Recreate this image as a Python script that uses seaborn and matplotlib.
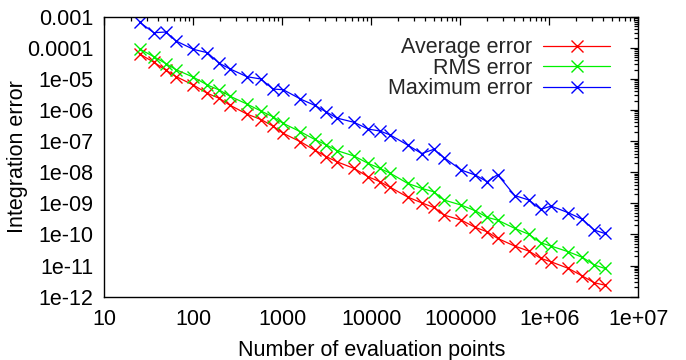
import numpy as np
import pandas as pd
import matplotlib
matplotlib.use("Agg")
import matplotlib.pyplot as plt
import matplotlib.ticker as mticker
import seaborn as sns

# ---- data ----
points = [25, 36, 49, 64, 100, 144, 196, 256, 400, 576, 784, 1024, 1600, 2304, 3136, 4096,
          6400, 9216, 12544, 16384, 25600, 36864, 50176, 65536, 102400, 147456, 200704, 262144,
          409600, 589824, 802816, 1048576, 1638400, 2359296, 3211264, 4194304]

avg_err = [6.32e-5, 3.44e-5, 1.93e-5, 1.19e-5, 6.37e-6, 3.44e-6, 2.38e-6, 1.45e-6,
           7.43e-7, 4.95e-7, 3.06e-7, 1.78e-7, 9.57e-8, 5.18e-8, 3.15e-8, 2.18e-8,
           1.33e-8, 7.16e-9, 4.95e-9, 3.27e-9, 1.60e-9, 1.04e-9, 7.43e-10, 4.21e-10,
           2.90e-10, 1.69e-10, 1.22e-10, 7.50e-11, 4.24e-11, 2.92e-11, 1.71e-11, 1.32e-11,
           8.13e-12, 4.59e-12, 2.80e-12, 2.36e-12]

rms_err = [9.14e-5, 5.18e-5, 3.13e-5, 1.98e-5, 1.14e-5, 6.37e-6, 4.40e-6, 2.82e-6,
           1.56e-6, 9.29e-7, 6.10e-7, 3.73e-7, 2.00e-7, 1.14e-7, 7.50e-8, 4.99e-8,
           3.32e-8, 1.93e-8, 1.33e-8, 9.23e-9, 4.40e-9, 3.03e-9, 2.36e-9, 1.28e-9,
           8.81e-10, 5.78e-10, 3.55e-10, 2.90e-10, 1.57e-10, 1.01e-10, 5.41e-11, 4.24e-11,
           2.78e-11, 1.84e-11, 1.04e-11, 8.13e-12]

max_err = [6.61e-4, 3.06e-4, 3.22e-4, 1.66e-4, 8.95e-5, 6.95e-5, 3.18e-5, 2.13e-5,
           1.18e-5, 9.93e-6, 4.73e-6, 4.50e-6, 2.26e-6, 1.42e-6, 8.63e-7, 5.53e-7,
           4.03e-7, 2.45e-7, 2.11e-7, 1.57e-7, 7.50e-8, 3.99e-8, 5.44e-8, 2.97e-8,
           1.18e-8, 8.13e-9, 4.95e-9, 8.43e-9, 1.78e-9, 1.28e-9, 6.41e-10, 8.18e-10,
           4.99e-10, 3.06e-10, 1.38e-10, 1.08e-10]

series_names = ["Average error", "RMS error", "Maximum error"]
series_colors = ["#ff0000", "#00f000", "#0000ff"]

x_ticks = [10, 100, 1000, 10000, 100000, 1e6, 1e7]
x_tick_labels = ["10", "100", "1000", "10000", "100000", "1e+06", "1e+07"]
y_ticks = [1e-12, 1e-11, 1e-10, 1e-9, 1e-8, 1e-7, 1e-6, 1e-5, 1e-4, 1e-3]
y_tick_labels = ["1e-12", "1e-11", "1e-10", "1e-09", "1e-08", "1e-07", "1e-06",
                 "1e-05", "0.0001", "0.001"]

FS = 15.5

# ---- plot ----
sns.set_theme(style="white")
plt.rcParams["font.family"] = ["Liberation Sans", "DejaVu Sans"]

fig = plt.figure(figsize=(6.86, 3.6), dpi=100)
ax = fig.add_axes([104.3 / 686, 1 - 296.7 / 360, (638.3 - 104.3) / 686, (296.7 - 16.7) / 360])

for name, vals, col in zip(series_names, [avg_err, rms_err, max_err], series_colors):
    df = pd.DataFrame({"n": points, "err": vals})
    sns.lineplot(data=df, x="n", y="err", ax=ax, color=col, marker="x",
                 markersize=8, markeredgewidth=1.0, linewidth=0.9, label=name,
                 markeredgecolor=col)

ax.set_xscale("log")
ax.set_yscale("log")
ax.set_xlim(10, 1e7)
ax.set_ylim(1e-12, 1e-3)

ax.xaxis.set_major_locator(mticker.FixedLocator(x_ticks))
ax.xaxis.set_major_formatter(mticker.FixedFormatter(x_tick_labels))
ax.yaxis.set_major_locator(mticker.FixedLocator(y_ticks))
ax.yaxis.set_major_formatter(mticker.FixedFormatter(y_tick_labels))
ax.xaxis.set_minor_locator(mticker.LogLocator(base=10, subs=np.arange(2, 10), numticks=100))
ax.yaxis.set_minor_locator(mticker.LogLocator(base=10, subs=np.arange(2, 10), numticks=100))
ax.xaxis.set_minor_formatter(mticker.NullFormatter())
ax.yaxis.set_minor_formatter(mticker.NullFormatter())

ax.tick_params(which="both", direction="in", top=True, right=True, color="black",
               labelsize=FS, labelcolor="black", width=0.9)
ax.tick_params(which="major", length=6)
ax.tick_params(axis="y", which="major", pad=8)
ax.tick_params(axis="x", which="major", pad=9)
ax.tick_params(which="minor", length=3)
for sp in ax.spines.values():
    sp.set_color("black")
    sp.set_linewidth(1.0)

ax.set_xlabel("Number of evaluation points", fontsize=FS, color="black", labelpad=7)
ax.set_ylabel("Integration error", fontsize=FS, color="black")
ax.yaxis.set_label_coords(-0.142, 0.5)

leg = ax.legend(loc="upper right", bbox_to_anchor=(0.947, 0.927), frameon=False,
                markerfirst=False, handlelength=3.1, handletextpad=0.5,
                labelspacing=-0.02, borderpad=0, borderaxespad=0, fontsize=FS)

fig.savefig("out.png", dpi=100)
